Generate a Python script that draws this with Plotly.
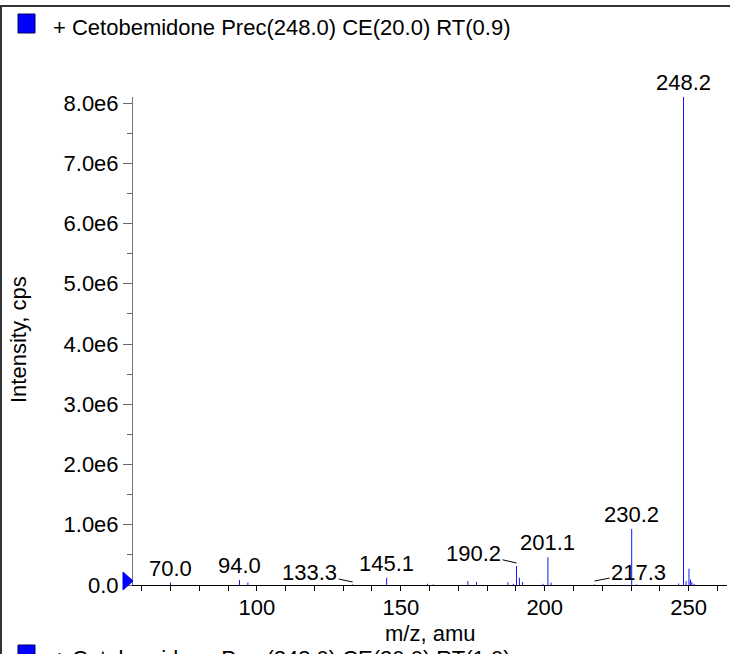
import plotly.graph_objects as go

# ---------------- data ----------------
title_text = "+ Cetobemidone Prec(248.0) CE(20.0) RT(0.9)"
next_title_text = "+ Cetobemidone Prec(248.0) CE(30.0) RT(1.0)"
x_title = "m/z, amu"
y_title = "Intensity, cps"

mz = [70.0, 94.0, 96.9, 133.3, 145.1, 159.3, 161.3, 173.3, 176.3, 187.2,
      189.1, 190.2, 191.2, 192.3, 199.4, 201.1, 202.2, 217.3, 230.2, 231.8,
      246.5, 248.2, 249.1, 250.1, 250.6, 251.1, 251.9]
intensity = [0.04e6, 0.085e6, 0.04e6, 0.01e6, 0.12e6, 0.02e6, 0.01e6, 0.065e6, 0.05e6, 0.045e6,
             0.02e6, 0.315e6, 0.12e6, 0.05e6, 0.02e6, 0.46e6, 0.04e6, 0.01e6, 0.93e6, 0.01e6,
             0.025e6, 8.1e6, 0.065e6, 0.27e6, 0.09e6, 0.05e6, 0.02e6]

# labels drawn directly above their peaks
top_labels = ["70.0", "94.0", "145.1", "201.1", "230.2", "248.2"]
# labels with a leader line: (label, head intensity, x offset px, y offset px)
leader_labels = ["133.3", "190.2", "217.3"]
leader_head_y = [0.05e6, 0.365e6, 0.066e6]
leader_dx = [-43, -43, 44]
leader_dy = [-9, -10, -8.5]

y_tick_vals = [0, 1e6, 2e6, 3e6, 4e6, 5e6, 6e6, 7e6, 8e6]
y_tick_text = ["0.0", "1.0e6", "2.0e6", "3.0e6", "4.0e6", "5.0e6", "6.0e6", "7.0e6", "8.0e6"]

x_range = [57, 263.3]
y_range = [0, 8.1e6]

# ---------------- layout constants ----------------
W, H = 730, 654
L, R, T, B = 133, 3, 97, 69
PW, PH = W - L - R, H - T - B
FONT = "Liberation Sans, Arial, Helvetica, sans-serif"
FS = 22


def px(xp):
    return (xp - L) / PW


def py(yp):
    return (H - B - yp) / PH


# stick spectrum
xs, ys = [], []
for m, i in zip(mz, intensity):
    xs += [m, m, None]
    ys += [0, i, None]

fig = go.Figure()
fig.add_trace(go.Scatter(x=xs, y=ys, mode="lines",
                         line=dict(color="rgb(20,20,255)", width=1),
                         hoverinfo="skip", showlegend=False))

annotations = []
lookup = {f"{m:.1f}": i for m, i in zip(mz, intensity)}
for lab in top_labels:
    annotations.append(dict(x=float(lab), y=lookup[lab], xref="x", yref="y",
                            text=lab, showarrow=False, yanchor="bottom", xanchor="center",
                            font=dict(family=FONT, size=FS, color="black")))
for lab, hy, dx, dy in zip(leader_labels, leader_head_y, leader_dx, leader_dy):
    annotations.append(dict(x=float(lab), y=hy, xref="x", yref="y",
                            text=lab, showarrow=True, arrowhead=0, arrowwidth=1,
                            arrowcolor="black", ax=dx, ay=dy, axref="pixel", ayref="pixel",
                            standoff=0, font=dict(family=FONT, size=FS, color="black")))

# titles
annotations.append(dict(x=px(51), y=py(27), xref="paper", yref="paper", text=title_text,
                        showarrow=False, xanchor="left", yanchor="middle",
                        font=dict(family=FONT, size=FS, color="black")))
annotations.append(dict(x=px(51), y=py(658), xref="paper", yref="paper", text=next_title_text,
                        showarrow=False, xanchor="left", yanchor="middle",
                        font=dict(family=FONT, size=FS, color="black")))
annotations.append(dict(x=px(430), y=py(633), xref="paper", yref="paper", text=x_title,
                        showarrow=False, xanchor="center", yanchor="middle",
                        font=dict(family=FONT, size=FS, color="black")))
annotations.append(dict(x=px(18), y=py(340), xref="paper", yref="paper", text=y_title,
                        showarrow=False, xanchor="center", yanchor="middle", textangle=-90,
                        font=dict(family=FONT, size=FS, color="black")))

shapes = [
    # frame lines
    dict(type="line", xref="paper", yref="paper", x0=px(0), x1=px(W), y0=py(6), y1=py(6),
         line=dict(color="#333333", width=2)),
    dict(type="line", xref="paper", yref="paper", x0=px(1), x1=px(1), y0=py(6), y1=py(H + 5),
         line=dict(color="#333333", width=2)),
    # legend squares
    dict(type="rect", xref="paper", yref="paper", x0=px(18), x1=px(35), y0=py(14), y1=py(33),
         fillcolor="rgb(0,0,255)", line=dict(color="#000066", width=1)),
    dict(type="rect", xref="paper", yref="paper", x0=px(18), x1=px(35), y0=py(645), y1=py(664),
         fillcolor="rgb(0,0,255)", line=dict(color="#000066", width=1)),
    # precursor triangle marker at the origin
    dict(type="path", xref="paper", yref="paper", xsizemode="pixel", ysizemode="pixel",
         xanchor=0, yanchor=0, path="M -10,13 L 0,4 L -10,-5 Z",
         fillcolor="rgb(0,0,255)", line=dict(color="rgb(0,0,255)", width=1)),
]

fig.update_layout(
    width=W, height=H,
    margin=dict(l=L, r=R, t=T, b=B, pad=0),
    paper_bgcolor="white", plot_bgcolor="white",
    font=dict(family=FONT, size=FS, color="black"),
    annotations=annotations, shapes=shapes, showlegend=False,
)
fig.update_xaxes(range=x_range, showgrid=False, zeroline=False,
                 showline=True, linecolor="black", linewidth=1,
                 ticks="outside", ticklen=5, tickcolor="black", tickwidth=1,
                 tick0=0, dtick=50, ticklabelstandoff=-2,
                 minor=dict(ticks="outside", ticklen=5, tickcolor="black", dtick=10, tick0=0),
                 tickfont=dict(family=FONT, size=FS, color="black"))
fig.update_yaxes(range=y_range, showgrid=False, zeroline=False,
                 showline=True, linecolor="#777777", linewidth=1,
                 ticks="outside", ticklen=9, tickcolor="#666666", tickwidth=1,
                 tickmode="array", tickvals=y_tick_vals, ticktext=y_tick_text,
                 minor=dict(ticks="outside", ticklen=5, tickcolor="#666666",
                            tickmode="linear", tick0=0, dtick=5e5),
                 tickfont=dict(family=FONT, size=FS, color="black"))

page_css = ("document.body.style.margin='0';document.body.style.padding='0';"
            "document.body.style.overflow='hidden';"
            "document.documentElement.style.overflow='hidden';")
fig.write_html("out.html", post_script=page_css,
               config={"displayModeBar": False, "staticPlot": True})
